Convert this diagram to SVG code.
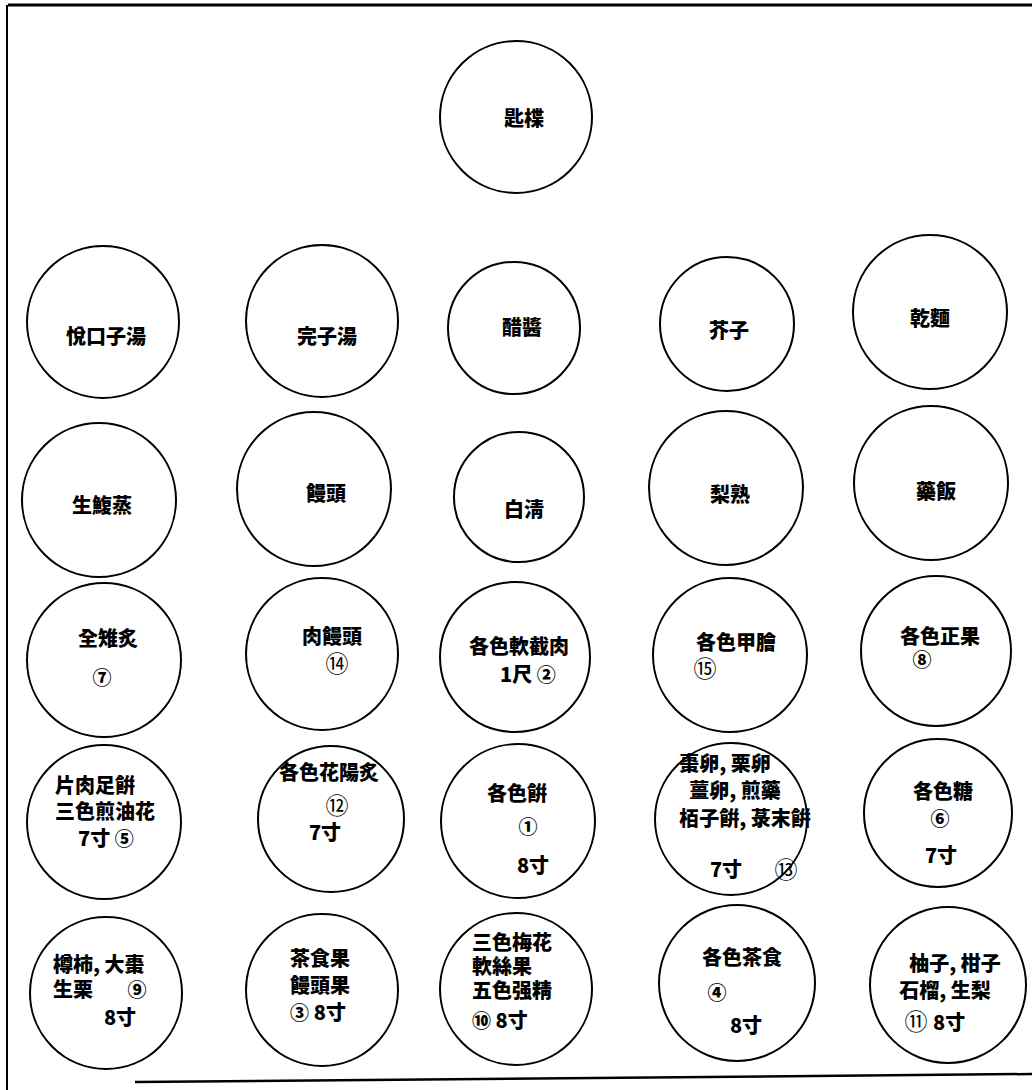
<svg xmlns="http://www.w3.org/2000/svg" width="1032" height="1090" viewBox="0 0 1032 1090">
<style>
.c{fill:none;stroke:#000;stroke-width:2}
text{font-family:"Noto Sans CJK KR","Noto Sans CJK TC",sans-serif;font-size:20px;font-weight:900;fill:#000;text-anchor:middle}
.s{text-anchor:start}
.n{font-size:19px;font-weight:900}
.N{font-size:23px;font-weight:normal}
.b{stroke:#000;fill:none}
</style>
<rect x="0" y="0" width="1032" height="1090" fill="#fff"/>
<g id="frame">
<line class="b" x1="8" y1="5" x2="1032" y2="5" stroke-width="3"/>
<line class="b" x1="7" y1="5" x2="7" y2="1090" stroke-width="2"/>
<line class="b" x1="135" y1="1082" x2="1032" y2="1074" stroke-width="2.5"/>
</g>
<g id="connectors"></g>
<g id="n0"><circle class="c" cx="516" cy="117" r="76"/><text x="524" y="126">匙楪</text></g>
<g id="n1"><circle class="c" cx="103" cy="322" r="76"/><text x="106" y="344">悅口子湯</text></g>
<g id="n2"><circle class="c" cx="322" cy="321" r="76"/><text x="327" y="344">完子湯</text></g>
<g id="n3"><circle class="c" cx="514" cy="328" r="66"/><text x="522" y="335">醋醬</text></g>
<g id="n4"><circle class="c" cx="727" cy="324" r="67"/><text x="729" y="338">芥子</text></g>
<g id="n5"><circle class="c" cx="930" cy="312" r="77"/><text x="930" y="326">乾麵</text></g>
<g id="n6"><circle class="c" cx="99" cy="500" r="77"/><text x="102" y="513">生鰒蒸</text></g>
<g id="n7"><circle class="c" cx="314" cy="489" r="77"/><text x="326" y="501">饅頭</text></g>
<g id="n8"><circle class="c" cx="519" cy="497" r="65"/><text x="524" y="517">白淸</text></g>
<g id="n9"><circle class="c" cx="726" cy="488" r="77"/><text x="730" y="502">梨熟</text></g>
<g id="n10"><circle class="c" cx="931" cy="483" r="77"/><text x="936" y="499">藥飯</text></g>
<g id="n11"><circle class="c" cx="104" cy="660" r="77"/><text x="108" y="646">全雉炙</text><text class="n" x="102" y="685">⑦</text></g>
<g id="n12"><circle class="c" cx="322" cy="654" r="76"/><text x="332" y="644">肉饅頭</text><text class="N" x="337" y="672">⑭</text></g>
<g id="n13"><circle class="c" cx="515" cy="657" r="75"/><text x="519" y="654">各色軟截肉</text><text class="s" x="500" y="682">1尺 <tspan class="n">②</tspan></text></g>
<g id="n14"><circle class="c" cx="730" cy="655" r="77"/><text x="736" y="650">各色甲膾</text><text class="N" x="705" y="677">⑮</text></g>
<g id="n15"><circle class="c" cx="936" cy="651" r="75"/><text x="940" y="644">各色正果</text><text class="n" x="922" y="667">⑧</text></g>
<g id="n16"><circle class="c" cx="104" cy="822" r="77"/><text class="s" x="55" y="793">片肉足餠</text><text class="s" x="55" y="819">三色煎油花</text><text class="s" x="78" y="846">7寸 <tspan class="n">⑤</tspan></text></g>
<g id="n17"><circle class="c" cx="331" cy="819" r="73"/><text x="329" y="780">各色花陽炙</text><text class="N" x="337" y="814">⑫</text><text x="325" y="840">7寸</text></g>
<g id="n18"><circle class="c" cx="518" cy="821" r="77"/><text x="517" y="801">各色餠</text><text class="n" x="528" y="834">①</text><text x="533" y="873">8寸</text></g>
<g id="n19"><circle class="c" cx="731" cy="819" r="76"/><text x="725" y="771">棗卵, 栗卵</text><text x="735" y="798">薑卵, 煎藥</text><text x="745" y="826">栢子餠, 菉末餠</text><text x="726" y="877">7寸</text><text class="N" x="786" y="878">⑬</text></g>
<g id="n20"><circle class="c" cx="938" cy="813" r="74"/><text x="943" y="799">各色糖</text><text class="n" x="940" y="826">⑥</text><text x="941" y="863">7寸</text></g>
<g id="n21"><circle class="c" cx="106" cy="993" r="76"/><text class="s" x="53" y="972">樽柿, 大棗</text><text class="s" x="53" y="997">生栗</text><text class="n" x="137" y="997">⑨</text><text x="120" y="1025">8寸</text></g>
<g id="n22"><circle class="c" cx="322" cy="990" r="76"/><text x="320" y="966">茶食果</text><text x="320" y="993">饅頭果</text><text x="318" y="1020"><tspan class="n">③</tspan> 8寸</text></g>
<g id="n23"><circle class="c" cx="516" cy="989" r="76"/><text class="s" x="472" y="950">三色梅花</text><text class="s" x="472" y="974">軟絲果</text><text class="s" x="472" y="998">五色强精</text><text class="s" x="472" y="1028"><tspan class="n">⑩</tspan> 8寸</text></g>
<g id="n24"><circle class="c" cx="737" cy="983" r="78"/><text x="742" y="965">各色茶食</text><text class="n" x="717" y="1000">④</text><text x="746" y="1033">8寸</text></g>
<g id="n25"><circle class="c" cx="948" cy="985" r="78"/><text x="955" y="971">柚子, 柑子</text><text x="945" y="998">石榴, 生梨</text><text class="N" x="916" y="1030">⑪</text><text class="s" x="933" y="1030">8寸</text></g>
</svg>
